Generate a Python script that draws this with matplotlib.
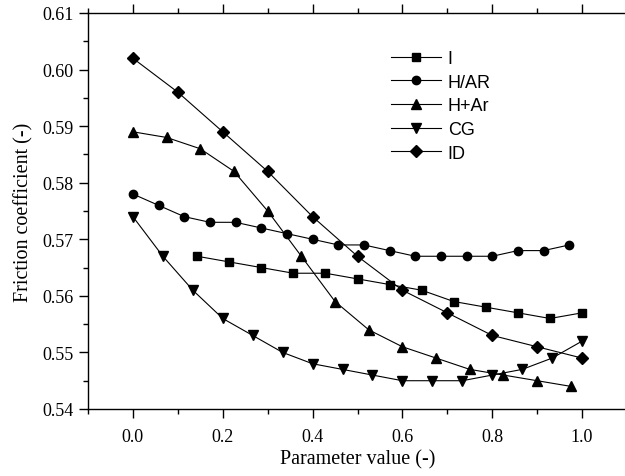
import matplotlib
matplotlib.use('Agg')
import matplotlib.pyplot as plt
import numpy as np
from matplotlib.ticker import MultipleLocator

# friction coefficient vs. parameter value for each treatment
x_I = [2/14, 3/14, 4/14, 5/14, 6/14, 7/14, 8/14, 9/14, 10/14, 11/14, 12/14, 13/14, 1.0]
y_I = [0.567, 0.566, 0.565, 0.564, 0.564, 0.563, 0.562, 0.561, 0.559, 0.558, 0.557, 0.556, 0.557]

x_HAR = [i * 0.4 / 7 for i in range(18)]
y_HAR = [0.578, 0.576, 0.574, 0.573, 0.573, 0.572, 0.571, 0.570, 0.569, 0.569,
         0.568, 0.567, 0.567, 0.567, 0.567, 0.568, 0.568, 0.569]

x_HpAr = [i * 0.075 for i in range(14)]
y_HpAr = [0.589, 0.588, 0.586, 0.582, 0.575, 0.567, 0.559, 0.554, 0.551, 0.549,
          0.547, 0.546, 0.545, 0.544]

x_CG = [i / 15 for i in range(16)]
y_CG = [0.574, 0.567, 0.561, 0.556, 0.553, 0.550, 0.548, 0.547, 0.546, 0.545,
        0.545, 0.545, 0.546, 0.547, 0.549, 0.552]

x_ID = [i / 10 for i in range(11)]
y_ID = [0.602, 0.596, 0.589, 0.582, 0.574, 0.567, 0.561, 0.557, 0.553, 0.551, 0.549]

serif = ['Liberation Serif', 'DejaVu Serif']
sans = ['Liberation Sans', 'DejaVu Sans']

fig = plt.figure(figsize=(6.25, 4.77), dpi=100)
ax = fig.add_axes([88/625, 1 - 410/477, (627 - 88)/625, (410 - 14)/477])

kw = dict(color='black', lw=0.8)
ax.plot(x_I, y_I, marker='s', ms=5.5, label='I', **kw)
ax.plot(x_HAR, y_HAR, marker='o', ms=6, label='H/AR', **kw)
ax.plot(x_HpAr, y_HpAr, marker='^', ms=7, label='H+Ar', **kw)
ax.plot(x_CG, y_CG, marker='v', ms=7, label='CG', **kw)
ax.plot(x_ID, y_ID, marker='D', ms=6.5, label='ID', **kw)

ax.set_xlim(-0.1, 1.1)
ax.set_ylim(0.54, 0.61)
ax.xaxis.set_major_locator(MultipleLocator(0.2))
ax.xaxis.set_minor_locator(MultipleLocator(0.1))
ax.yaxis.set_major_locator(MultipleLocator(0.01))
ax.yaxis.set_minor_locator(MultipleLocator(0.005))
ax.xaxis.set_major_formatter(plt.FormatStrFormatter('%.1f'))
ax.yaxis.set_major_formatter(plt.FormatStrFormatter('%.2f'))

ax.tick_params(which='both', direction='out', top=True, right=True, width=1)
ax.tick_params(which='major', length=6.5, labelsize=13, pad=4)
ax.tick_params(axis='x', which='major', pad=7)
ax.tick_params(which='minor', length=3.5)
for lab in ax.get_xticklabels() + ax.get_yticklabels():
    lab.set_family(serif)
for s in ax.spines.values():
    s.set_linewidth(1)

ax.set_xlabel('Parameter value (-)', family=serif, fontsize=14.5, labelpad=3)
ax.set_ylabel('Friction coefficient (-)', family=serif, fontsize=14.5, labelpad=6)

ax.legend(loc='upper left', bbox_to_anchor=(0.562, 0.907), frameon=False,
          prop={'family': sans, 'size': 13}, handlelength=2.8, handletextpad=0.35,
          labelspacing=0.37, borderpad=0, borderaxespad=0)

fig.savefig('out.png', dpi=100)
